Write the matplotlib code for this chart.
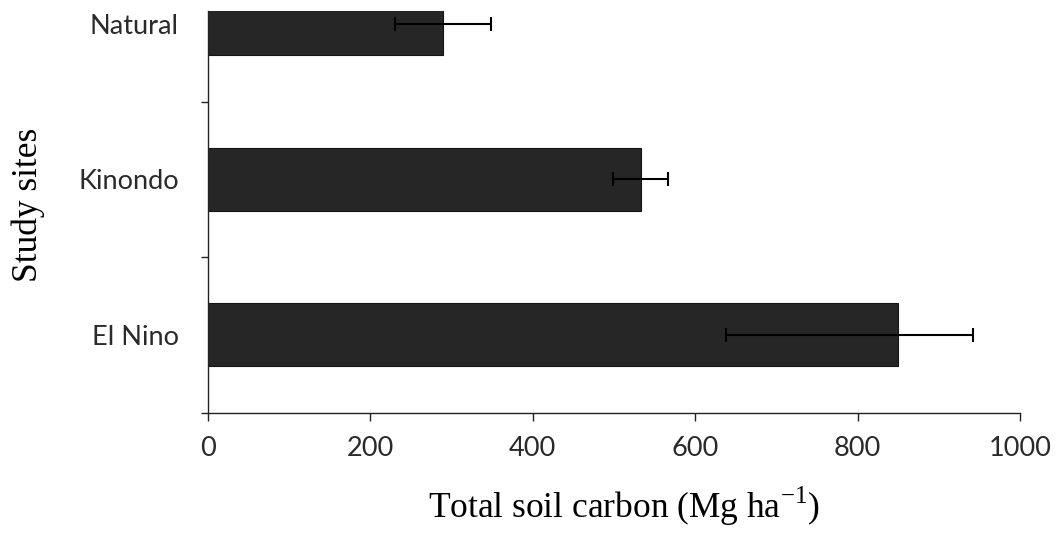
import matplotlib
matplotlib.use("Agg")
import matplotlib.pyplot as plt

# 데이터
sites = ["El Nino", "Kinondo", "Natural"]
carbon = [850, 533, 289]
err_low = [212, 34, 59]   # 원본 El Nino 오차막대는 비대칭
err_high = [92, 34, 59]
x_ticks = [0, 200, 400, 600, 800, 1000]

plt.rcParams["mathtext.fontset"] = "custom"
plt.rcParams["mathtext.rm"] = "Liberation Serif"

W, H = 1056, 535
fig = plt.figure(figsize=(W / 100, H / 100), dpi=100)
# 축 위치는 픽셀 기준으로 맞춤 (위쪽은 원본처럼 잘려 있음)
left, right, bottom, top = 208, 1020, 412.7, 11
ax = fig.add_axes([left / W, 1 - bottom / H, (right - left) / W, (bottom - top) / H])

y = range(len(sites))
ax.barh(y, carbon, height=0.405, color="#262626", edgecolor="#151515", linewidth=0.8,
        xerr=[err_low, err_high],
        error_kw=dict(ecolor="black", elinewidth=1.5, capsize=5, capthick=1.5),
        zorder=2)

ax.set_xlim(0, 1000)
ax.set_ylim(-0.5, -0.5 + (bottom - top) / 155.5)

for s in ("top", "right"):
    ax.spines[s].set_visible(False)
for s in ("left", "bottom"):
    ax.spines[s].set_color("#222222")
    ax.spines[s].set_linewidth(1.0)

tick_font = dict(family=["Lato", "DejaVu Sans"], size=19.5, color="#2a2a2a")

ax.set_xticks(x_ticks)
ax.set_xticklabels([str(t) for t in x_ticks], **tick_font)
ax.tick_params(axis="x", direction="out", length=6, width=1.0, color="#222222", pad=11)

ax.set_yticks(list(y))
ax.set_yticklabels(sites, **tick_font)
ax.tick_params(axis="y", which="major", length=0, pad=21)
ax.set_yticks([-0.5, 0.5, 1.5], minor=True)
ax.tick_params(axis="y", which="minor", direction="out", length=5, width=1.0, color="#222222")

label_font = dict(family=["Liberation Serif", "DejaVu Serif"], size=25.5, color="black")
ax.set_xlabel("Total soil carbon (Mg ha$^{\\mathrm{-1}}$)", **label_font)
ax.set_ylabel("Study sites", **label_font)
ax.xaxis.set_label_coords((624 - left) / (right - left), (bottom - 506) / (bottom - top))
ax.xaxis.label.set_va("center")
ax.yaxis.set_label_coords((28 - left) / (right - left), (bottom - 205) / (bottom - top))
ax.yaxis.label.set_va("center")

fig.savefig("out.png", dpi=100)
